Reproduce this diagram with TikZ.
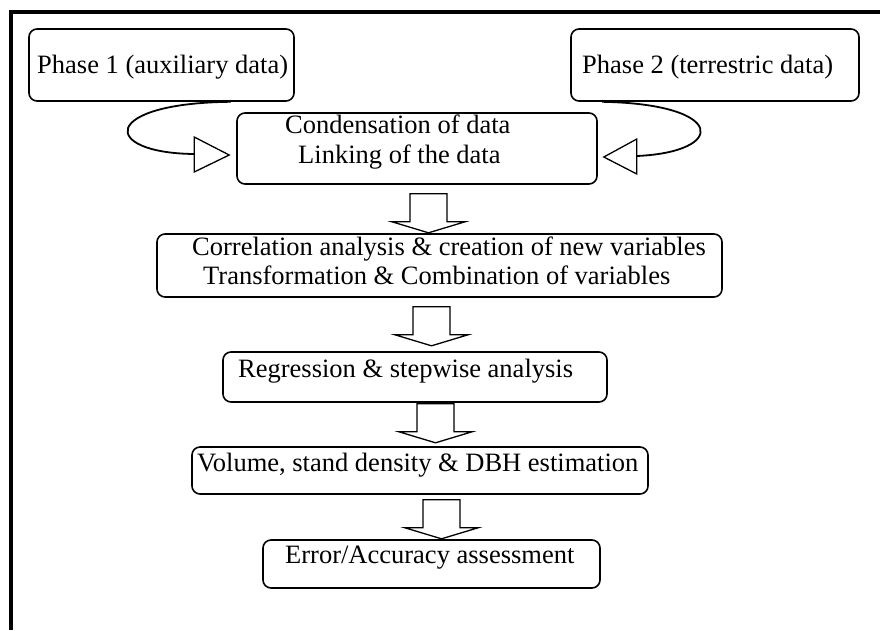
\documentclass[tikz,border=0pt]{standalone}
\usepackage{fontspec}
\setmainfont{Liberation Serif}
\usetikzlibrary{calc}
\begin{document}
\begin{tikzpicture}[x=1pt,y=-1pt,
  box/.style={draw, rounded corners=8pt, line width=1.6pt, inner sep=0pt},
  txt/.style={anchor=base west, inner sep=0pt, font=\fontsize{26.5pt}{30pt}\selectfont},
  link/.style={line width=1.8pt},
  head/.style={line width=1.3pt, fill=white, line join=miter},
  blockarrow/.pic={\draw[line width=1.3pt, line join=miter] (-18.5,0) -- (-18.5,28) -- (-36.5,28) -- (0,39) -- (36.5,28) -- (18.5,28) -- (18.5,0) -- cycle;}
]
\useasboundingbox (0,0) rectangle (880,630);
% frame
\draw[line width=4pt, line join=miter] (10.8,630) -- (10.8,12) -- (880,12);

% boxes
\node[box, minimum width=265pt, minimum height=72pt] (p1) at (161.5,65) {};
\node[box, minimum width=288pt, minimum height=72pt] (p2) at (715,65) {};
\node[box, minimum width=360pt, minimum height=71pt] (cond) at (417,148.5) {};
\node[box, minimum width=565pt, minimum height=63pt] (corr) at (439.5,265.5) {};
\node[box, minimum width=384pt, minimum height=50pt] (regr) at (415,377) {};
\node[box, minimum width=456pt, minimum height=47pt] (vol) at (420,470.5) {};
\node[box, minimum width=337pt, minimum height=48pt] (err) at (431.5,564) {};

% texts
\node[txt] (t1) at (37,73) {Phase 1 (auxiliary data)};
\node[txt] (t2) at (582,73) {Phase 2 (terrestric data)};
\node[txt] (t3) at (285,133) {Condensation of data};
\node[txt] (t4) at (298,163) {Linking of the data};
\node[txt] (t5) at (192,255) {Correlation analysis \& creation of new variables};
\node[txt] (t6) at (203,284) {Transformation \& Combination of variables};
\node[txt] (t7) at (238,377) {Regression \& stepwise analysis};
\node[txt] (t8) at (197,471) {Volume, stand density \& DBH estimation};
\node[txt] (t9) at (285,563) {Error/Accuracy assessment};

% curved links into the condensation box
\coordinate (s1) at ($(p1.south east)+(-64,0)$);
\coordinate (tip1) at ($(cond.west)+(-7,6.5)$);
\coordinate (b1) at ($(tip1)+(-35,-1)$);
\draw[link] (s1) .. controls (100,103) and (100,153) .. (b1);
\draw[head] ($(tip1)+(-35,-18)$) -- (tip1) -- ($(tip1)+(-35,17)$) -- cycle;

\coordinate (s2) at ($(p2.south west)+(32,0)$);
\coordinate (tip2) at ($(cond.east)+(6,8.5)$);
\coordinate (b2) at ($(tip2)+(33,-1)$);
\draw[link] (s2) .. controls (727,104) and (727,152) .. (b2);
\draw[head] ($(tip2)+(33,-18)$) -- (tip2) -- ($(tip2)+(33,17)$) -- cycle;

% block arrows
\pic (a1) at ($(cond.south)+(11.5,9)$) {blockarrow};
\pic (a2) at ($(corr.south)+(-8,9)$) {blockarrow};
\pic (a3) at ($(regr.south)+(20.5,1)$) {blockarrow};
\pic (a4) at ($(vol.south)+(21.5,5)$) {blockarrow};
\end{tikzpicture}
\end{document}
